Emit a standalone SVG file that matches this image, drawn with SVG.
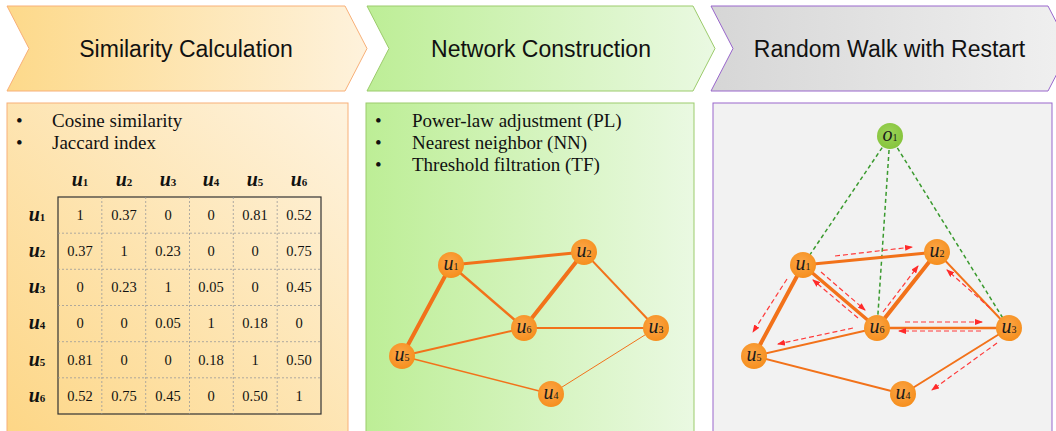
<svg xmlns="http://www.w3.org/2000/svg" width="1056" height="431" viewBox="0 0 1056 431">
<defs>
<linearGradient id="gY" x1="0" y1="0" x2="1" y2="0"><stop offset="0" stop-color="#FDD98A"/><stop offset="1" stop-color="#FEF2DC"/></linearGradient>
<linearGradient id="gYp" x1="0" y1="1" x2="1" y2="0"><stop offset="0" stop-color="#FDD685"/><stop offset="1" stop-color="#FEF3DF"/></linearGradient>
<linearGradient id="gG" x1="0" y1="0" x2="1" y2="0"><stop offset="0" stop-color="#BDEE96"/><stop offset="1" stop-color="#EAF9E2"/></linearGradient>
<linearGradient id="gS" x1="0" y1="0" x2="1" y2="0"><stop offset="0" stop-color="#D6D6D6"/><stop offset="1" stop-color="#F0F0F0"/></linearGradient>
<radialGradient id="gO" cx="0.45" cy="0.4" r="0.6"><stop offset="0" stop-color="#FBA648"/><stop offset="1" stop-color="#F68F1E"/></radialGradient>
<radialGradient id="gN" cx="0.45" cy="0.4" r="0.6"><stop offset="0" stop-color="#9DD45A"/><stop offset="1" stop-color="#86C43C"/></radialGradient>
<marker id="ar" markerWidth="8" markerHeight="6" refX="7" refY="3" orient="auto" markerUnits="userSpaceOnUse"><path d="M0,0 L8,3 L0,6 z" fill="#FF2A2A"/></marker>
</defs>
<style>
.hdr{font-family:"Liberation Sans",Arial,sans-serif;font-size:23px;fill:#111;text-anchor:middle}
.bl{font-family:"Liberation Serif","Times New Roman",serif;font-size:19px;fill:#111}
.val{font-family:"Liberation Serif","Times New Roman",serif;font-size:14.5px;fill:#111;text-anchor:middle}
.ml{font-family:"Liberation Serif","Times New Roman",serif;font-size:20px;font-weight:bold;font-style:italic;fill:#111;text-anchor:middle}
.ml .s{font-size:11px;font-style:normal}
.nl{font-family:"Liberation Serif","Times New Roman",serif;font-size:20px;font-style:italic;fill:#1a1a1a;text-anchor:middle}
.nl .s{font-size:10px;font-style:normal}
.grid{stroke:#9a9a9a;stroke-width:0.8;stroke-dasharray:2 2;fill:none}
.nd{fill:url(#gO)}
.e{stroke:#F2721A;fill:none;stroke-linecap:round}
.gd{stroke:#3A9A2E;stroke-width:1.5;stroke-dasharray:4 3;fill:none}
.rd{stroke:#FF3A3A;stroke-width:1.2;stroke-dasharray:5 3;fill:none;marker-end:url(#ar)}
</style>

<!-- Header chevrons -->
<g id="step1">
<polygon points="7,6 345,6 367,48.5 345,91 7,91 29,48.5" fill="url(#gY)" stroke="#F8B078" stroke-width="1"/>
<text class="hdr" x="186" y="57">Similarity Calculation</text>
</g>
<g id="step2">
<polygon points="367,6 693,6 715,48.5 693,91 367,91 389,48.5" fill="url(#gG)" stroke="#9CCB6C" stroke-width="1"/>
<text class="hdr" x="541" y="57">Network Construction</text>
</g>
<g id="step3">
<polygon points="711,6 1048,6 1070,48.5 1048,91 711,91 733,48.5" fill="url(#gS)" stroke="#9966CC" stroke-width="1"/>
<text class="hdr" x="889.5" y="57">Random Walk with Restart</text>
</g>

<!-- Panel 1 -->
<g id="panel1">
<rect x="7" y="103" width="341" height="340" fill="url(#gYp)" stroke="#F8B078" stroke-width="1"/>
<text class="bl" x="16" y="127">•</text><text class="bl" x="52" y="127">Cosine similarity</text>
<text class="bl" x="16" y="149">•</text><text class="bl" x="52" y="149">Jaccard index</text>
<g id="matrix">
<rect x="58" y="197" width="263" height="217" fill="none" stroke="#333" stroke-width="1.2"/>
<path class="grid" d="M101.8,197V414M145.7,197V414M189.5,197V414M233.3,197V414M277.2,197V414M58,233.2H321M58,269.3H321M58,305.5H321M58,341.7H321M58,377.8H321"/>
<text class="ml" x="80" y="186">u<tspan class="s">1</tspan></text>
<text class="ml" x="124" y="186">u<tspan class="s">2</tspan></text>
<text class="ml" x="168" y="186">u<tspan class="s">3</tspan></text>
<text class="ml" x="211" y="186">u<tspan class="s">4</tspan></text>
<text class="ml" x="255" y="186">u<tspan class="s">5</tspan></text>
<text class="ml" x="299" y="186">u<tspan class="s">6</tspan></text>
<text class="ml" x="37" y="221">u<tspan class="s">1</tspan></text>
<text class="ml" x="37" y="257">u<tspan class="s">2</tspan></text>
<text class="ml" x="37" y="293">u<tspan class="s">3</tspan></text>
<text class="ml" x="37" y="329">u<tspan class="s">4</tspan></text>
<text class="ml" x="37" y="366">u<tspan class="s">5</tspan></text>
<text class="ml" x="37" y="402">u<tspan class="s">6</tspan></text>
<g>
<text class="val" x="80" y="220">1</text><text class="val" x="124" y="220">0.37</text><text class="val" x="168" y="220">0</text><text class="val" x="211" y="220">0</text><text class="val" x="255" y="220">0.81</text><text class="val" x="299" y="220">0.52</text>
<text class="val" x="80" y="256">0.37</text><text class="val" x="124" y="256">1</text><text class="val" x="168" y="256">0.23</text><text class="val" x="211" y="256">0</text><text class="val" x="255" y="256">0</text><text class="val" x="299" y="256">0.75</text>
<text class="val" x="80" y="292">0</text><text class="val" x="124" y="292">0.23</text><text class="val" x="168" y="292">1</text><text class="val" x="211" y="292">0.05</text><text class="val" x="255" y="292">0</text><text class="val" x="299" y="292">0.45</text>
<text class="val" x="80" y="328">0</text><text class="val" x="124" y="328">0</text><text class="val" x="168" y="328">0.05</text><text class="val" x="211" y="328">1</text><text class="val" x="255" y="328">0.18</text><text class="val" x="299" y="328">0</text>
<text class="val" x="80" y="365">0.81</text><text class="val" x="124" y="365">0</text><text class="val" x="168" y="365">0</text><text class="val" x="211" y="365">0.18</text><text class="val" x="255" y="365">1</text><text class="val" x="299" y="365">0.50</text>
<text class="val" x="80" y="401">0.52</text><text class="val" x="124" y="401">0.75</text><text class="val" x="168" y="401">0.45</text><text class="val" x="211" y="401">0</text><text class="val" x="255" y="401">0.50</text><text class="val" x="299" y="401">1</text>
</g>
</g>
</g>

<!-- Panel 2 -->
<g id="panel2">
<rect x="366" y="103" width="328" height="340" fill="url(#gG)" stroke="#9CCB6C" stroke-width="1"/>
<text class="bl" x="375" y="127">•</text><text class="bl" x="412" y="127">Power-law adjustment (PL)</text>
<text class="bl" x="375" y="149">•</text><text class="bl" x="412" y="149">Nearest neighbor (NN)</text>
<text class="bl" x="375" y="171">•</text><text class="bl" x="412" y="171">Threshold filtration (TF)</text>
</g>
<g id="connectors2">
<line class="e" x1="451" y1="265" x2="584" y2="252" stroke-width="3"/>
<line class="e" x1="451" y1="265" x2="402" y2="356" stroke-width="4"/>
<line class="e" x1="451" y1="265" x2="524" y2="328" stroke-width="2.5"/>
<line class="e" x1="584" y1="252" x2="524" y2="328" stroke-width="4"/>
<line class="e" x1="584" y1="252" x2="656" y2="328" stroke-width="2"/>
<line class="e" x1="524" y1="328" x2="656" y2="328" stroke-width="2"/>
<line class="e" x1="402" y1="356" x2="524" y2="328" stroke-width="2"/>
<line class="e" x1="402" y1="356" x2="551" y2="394" stroke-width="1.6"/>
<line class="e" x1="551" y1="394" x2="656" y2="328" stroke-width="1" stroke="#F5A060"/>
</g>
<g id="n2-u1"><circle class="nd" cx="451" cy="265" r="13"/><text class="nl" x="451" y="270">u<tspan class="s">1</tspan></text></g>
<g id="n2-u2"><circle class="nd" cx="584" cy="252" r="13"/><text class="nl" x="584" y="257">u<tspan class="s">2</tspan></text></g>
<g id="n2-u3"><circle class="nd" cx="656" cy="328" r="13"/><text class="nl" x="656" y="333">u<tspan class="s">3</tspan></text></g>
<g id="n2-u4"><circle class="nd" cx="551" cy="394" r="13"/><text class="nl" x="551" y="399">u<tspan class="s">4</tspan></text></g>
<g id="n2-u5"><circle class="nd" cx="402" cy="356" r="13"/><text class="nl" x="402" y="361">u<tspan class="s">5</tspan></text></g>
<g id="n2-u6"><circle class="nd" cx="524" cy="328" r="13"/><text class="nl" x="524" y="333">u<tspan class="s">6</tspan></text></g>

<!-- Panel 3 -->
<g id="panel3">
<rect x="713" y="103" width="339" height="340" fill="#F2F2F2" stroke="#9966CC" stroke-width="1"/>
</g>
<g id="connectors3">
<line class="gd" x1="890" y1="136" x2="803" y2="265"/>
<line class="gd" x1="890" y1="136" x2="877" y2="328"/>
<line class="gd" x1="890" y1="136" x2="1009" y2="328"/>
<line class="e" x1="803" y1="265" x2="937" y2="252" stroke-width="3"/>
<line class="e" x1="803" y1="265" x2="754" y2="356" stroke-width="4"/>
<line class="e" x1="803" y1="265" x2="877" y2="328" stroke-width="3.5"/>
<line class="e" x1="937" y1="252" x2="877" y2="328" stroke-width="4"/>
<line class="e" x1="937" y1="252" x2="1009" y2="328" stroke-width="2"/>
<line class="e" x1="877" y1="328" x2="1009" y2="328" stroke-width="2.5"/>
<line class="e" x1="754" y1="356" x2="877" y2="328" stroke-width="2"/>
<line class="e" x1="754" y1="356" x2="903" y2="394" stroke-width="2"/>
<line class="e" x1="903" y1="394" x2="1009" y2="328" stroke-width="2"/>
<line class="rd" x1="835" y1="256" x2="912" y2="247"/>
<line class="rd" x1="787" y1="279" x2="753" y2="332"/>
<line class="rd" x1="821" y1="272" x2="865" y2="310"/>
<line class="rd" x1="858" y1="318" x2="813" y2="280"/>
<line class="rd" x1="883" y1="312" x2="918" y2="266"/>
<line class="rd" x1="853" y1="328" x2="778" y2="344"/>
<line class="rd" x1="905" y1="322" x2="982" y2="322"/>
<line class="rd" x1="981" y1="331" x2="899" y2="331"/>
<line class="rd" x1="990" y1="308" x2="947" y2="270"/>
<line class="rd" x1="997" y1="343" x2="932" y2="390"/>
</g>
<g id="n3-o1"><circle cx="890" cy="136" r="13" fill="url(#gN)"/><text class="nl" x="890" y="141">o<tspan class="s">1</tspan></text></g>
<g id="n3-u1"><circle class="nd" cx="803" cy="265" r="13"/><text class="nl" x="803" y="270">u<tspan class="s">1</tspan></text></g>
<g id="n3-u2"><circle class="nd" cx="937" cy="252" r="13"/><text class="nl" x="937" y="257">u<tspan class="s">2</tspan></text></g>
<g id="n3-u3"><circle class="nd" cx="1009" cy="328" r="13"/><text class="nl" x="1009" y="333">u<tspan class="s">3</tspan></text></g>
<g id="n3-u4"><circle class="nd" cx="903" cy="394" r="13"/><text class="nl" x="903" y="399">u<tspan class="s">4</tspan></text></g>
<g id="n3-u5"><circle class="nd" cx="754" cy="356" r="13"/><text class="nl" x="754" y="361">u<tspan class="s">5</tspan></text></g>
<g id="n3-u6"><circle class="nd" cx="877" cy="328" r="13"/><text class="nl" x="877" y="333">u<tspan class="s">6</tspan></text></g>
</svg>
